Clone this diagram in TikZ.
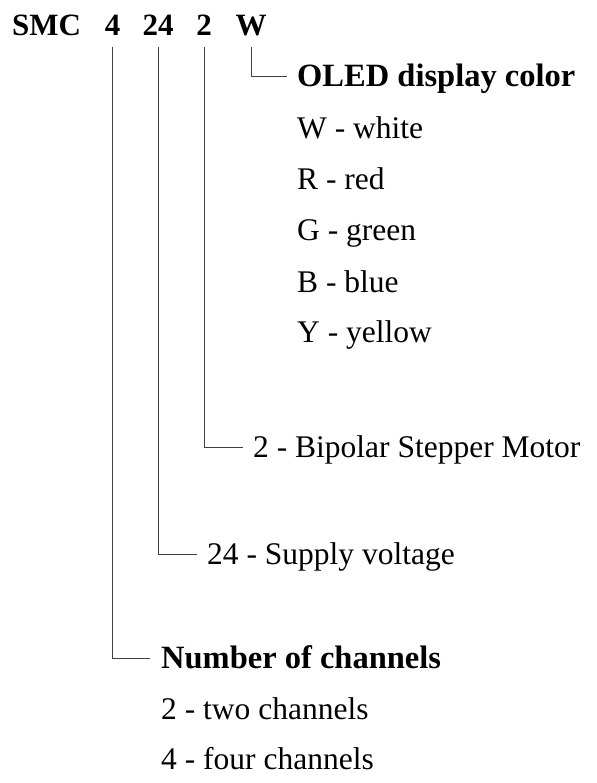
\documentclass[tikz,border=0pt]{standalone}
\usepackage{fontspec}
\setmainfont{Liberation Serif}
\begin{document}
\begin{tikzpicture}[x=1pt,y=-1pt,
  txt/.style={anchor=base west,inner sep=0pt,font=\fontsize{31.5}{36}\selectfont},
  hdr/.style={anchor=base,inner sep=0pt,font=\fontsize{31}{36}\selectfont\bfseries},
  ttl/.style={txt,font=\fontsize{32.5}{36}\selectfont\bfseries},
  conn/.style={draw=black!75,line width=0.9pt}]
\useasboundingbox (0,0) rectangle (596,783);
% header
\node[hdr,anchor=base west] (smc) at (12,36) {SMC};
\node[hdr] (h4) at (112.5,36) {4};
\node[hdr] (h24) at (158,36) {24};
\node[hdr] (h2) at (204,36) {2};
\node[hdr] (hW) at (251,36) {W};
% OLED group
\node[ttl] (oled) at (297,87) {OLED display color};
\node[txt] (cw) at (297,139) {W - white};
\node[txt] (cr) at (297,190) {R - red};
\node[txt] (cg) at (297,241) {G - green};
\node[txt] (cb) at (297,292) {B - blue};
\node[txt] (cy) at (297,342) {Y - yellow};
% motor
\node[txt] (motor) at (253,457) {2 - Bipolar Stepper Motor};
% voltage
\node[txt] (volt) at (207,564) {24 - Supply voltage};
% channels
\node[ttl] (chan) at (161,668) {Number of channels};
\node[txt] (c2) at (161,719) {2 - two channels};
\node[txt] (c4) at (161,769) {4 - four channels};
% connectors
\draw[conn] ([yshift=-11pt]hW.base) |- ([xshift=-10pt,yshift=11pt]oled.base west);
\draw[conn] ([yshift=-11pt]h2.base) |- ([xshift=-10pt,yshift=10pt]motor.base west);
\draw[conn] ([yshift=-11pt]h24.base) |- ([xshift=-10pt,yshift=10pt]volt.base west);
\draw[conn] ([yshift=-11pt]h4.base) |- ([xshift=-11pt,yshift=10pt]chan.base west);
\end{tikzpicture}
\end{document}
